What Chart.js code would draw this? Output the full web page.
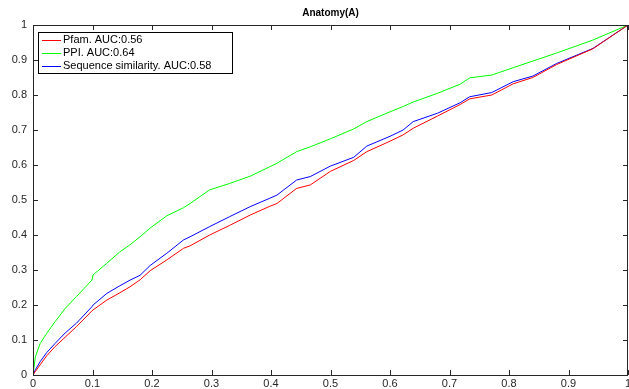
<!DOCTYPE html>
<html>
<head>
<meta charset="utf-8">
<script src="https://cdn.jsdelivr.net/npm/chart.js@4"></script>
<style>
  html, body { margin: 0; padding: 0; background: #fff; }
  #wrap { width: 629px; height: 389px; }
</style>
</head>
<body>
<div id="wrap"><canvas id="roc"></canvas></div>
<script>
// false positive rate, shared by the three curves
const fpr = [0, 0.004, 0.012, 0.023, 0.037, 0.054, 0.073, 0.099, 0.101, 0.124, 0.146, 0.163, 0.18, 0.197,
  0.225, 0.253, 0.264, 0.297, 0.33, 0.365, 0.398, 0.41, 0.443, 0.466, 0.5, 0.539, 0.561, 0.6, 0.622,
  0.639, 0.68, 0.718, 0.734, 0.771, 0.807, 0.84, 0.88, 0.941, 1];

// true positive rate for each predictor
const tprPfam = [0, 0.01, 0.029, 0.055, 0.081, 0.108, 0.138, 0.183, 0.186, 0.214, 0.235, 0.252, 0.272, 0.298,
  0.329, 0.362, 0.369, 0.40, 0.427, 0.457, 0.482, 0.49, 0.533, 0.543, 0.582, 0.613, 0.638, 0.668, 0.686,
  0.705, 0.74, 0.773, 0.789, 0.80, 0.832, 0.85, 0.887, 0.932, 1];
const tprPPI = [0, 0.052, 0.09, 0.119, 0.152, 0.19, 0.224, 0.271, 0.286, 0.319, 0.352, 0.372, 0.395, 0.42,
  0.455, 0.478, 0.49, 0.529, 0.547, 0.568, 0.595, 0.605, 0.638, 0.652, 0.675, 0.703, 0.724, 0.752, 0.767,
  0.78, 0.805, 0.831, 0.849, 0.857, 0.878, 0.897, 0.92, 0.957, 1];
const tprSeq = [0, 0.015, 0.038, 0.064, 0.09, 0.12, 0.148, 0.195, 0.2, 0.233, 0.255, 0.271, 0.285, 0.313,
  0.348, 0.386, 0.395, 0.424, 0.452, 0.481, 0.505, 0.514, 0.557, 0.567, 0.597, 0.622, 0.654, 0.682, 0.70,
  0.724, 0.748, 0.778, 0.795, 0.807, 0.838, 0.854, 0.89, 0.933, 1];

const seriesNames = ['Pfam. AUC:0.56', 'PPI. AUC:0.64', 'Sequence similarity. AUC:0.58'];
const seriesColors = ['#ff0000', '#00ff00', '#0000ff'];

const axisColor = '#262626';
const fontFamily = '"Liberation Sans", Arial, Helvetica, sans-serif';

function toPoints(ys) {
  return fpr.map((x, i) => ({ x: x, y: ys[i] }));
}

function tickText(v) {
  return String(Math.round(v * 10) / 10);
}

// box around the plot with inward ticks on all four sides, plus the legend
const boxPlugin = {
  id: 'matlabBox',
  afterDraw(chart) {
    const ctx = chart.ctx;
    const a = chart.chartArea;
    const xs = chart.scales.x, ys = chart.scales.y;
    const len = 5;
    ctx.save();
    ctx.strokeStyle = axisColor;
    ctx.lineWidth = 1;
    ctx.beginPath();
    ctx.rect(Math.round(a.left) + 0.5, Math.round(a.top) + 0.5,
      Math.round(a.right - a.left) - 1, Math.round(a.bottom - a.top));
    xs.ticks.forEach(t => {
      const px = Math.round(xs.getPixelForValue(t.value)) + 0.5;
      ctx.moveTo(px, a.bottom); ctx.lineTo(px, a.bottom - len);
      ctx.moveTo(px, a.top); ctx.lineTo(px, a.top + len);
    });
    ys.ticks.forEach(t => {
      const py = Math.round(ys.getPixelForValue(t.value)) + 0.5;
      ctx.moveTo(a.left, py); ctx.lineTo(a.left + len, py);
      ctx.moveTo(a.right, py); ctx.lineTo(a.right - len, py);
    });
    ctx.stroke();

    const lx = 38, ly = 32, lw = 194, lh = 41;
    ctx.fillStyle = '#fff';
    ctx.fillRect(lx, ly, lw, lh);
    ctx.strokeStyle = '#000';
    ctx.strokeRect(lx + 0.5, ly + 0.5, lw, lh);
    ctx.font = '11px ' + fontFamily;
    ctx.textBaseline = 'middle';
    chart.data.datasets.forEach((ds, i) => {
      const yy = ly + 7.5 + i * 13.3;
      ctx.strokeStyle = ds.borderColor;
      ctx.beginPath();
      ctx.moveTo(42, Math.round(yy) + 0.5);
      ctx.lineTo(61, Math.round(yy) + 0.5);
      ctx.stroke();
      ctx.fillStyle = '#000';
      ctx.fillText(ds.label, 63, yy);
    });
    ctx.restore();
  }
};

new Chart(document.getElementById('roc'), {
  type: 'line',
  data: {
    datasets: [
      { label: seriesNames[0], data: toPoints(tprPfam), borderColor: seriesColors[0] },
      { label: seriesNames[1], data: toPoints(tprPPI), borderColor: seriesColors[1] },
      { label: seriesNames[2], data: toPoints(tprSeq), borderColor: seriesColors[2] }
    ]
  },
  options: {
    responsive: true,
    maintainAspectRatio: false,
    animation: false,
    devicePixelRatio: 1,
    layout: { padding: 0 },
    elements: {
      line: { borderWidth: 1, tension: 0, fill: false },
      point: { radius: 0 }
    },
    plugins: {
      legend: { display: false },
      tooltip: { enabled: false },
      title: {
        display: true,
        text: 'Anatomy(A)',
        fullSize: false,
        color: '#000',
        font: { family: fontFamily, size: 10, weight: 'bold' },
        padding: { top: 7, bottom: 6 }
      }
    },
    scales: {
      x: {
        type: 'linear',
        min: 0, max: 1,
        grid: { display: false, drawTicks: false },
        border: { display: false },
        ticks: { stepSize: 0.1, color: axisColor, padding: 2, maxRotation: 0, autoSkip: false,
          font: { family: fontFamily, size: 11 }, callback: tickText },
        afterFit(scale) { scale.height = 14; scale.paddingLeft = 0; scale.paddingRight = 1; }
      },
      y: {
        min: 0, max: 1,
        grid: { display: false, drawTicks: false },
        border: { display: false },
        ticks: { stepSize: 0.1, color: axisColor, padding: 6, autoSkip: false,
          font: { family: fontFamily, size: 11 }, callback: tickText },
        afterFit(scale) { scale.width = 33; scale.paddingTop = 0; scale.paddingBottom = 0; }
      }
    }
  },
  plugins: [boxPlugin]
});
</script>
</body>
</html>
